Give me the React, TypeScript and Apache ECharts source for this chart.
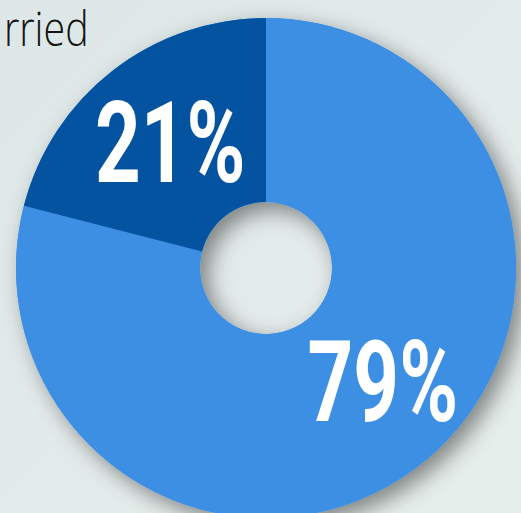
import React, { useEffect, useRef } from "react";
import * as echarts from "echarts";

const categories = ["Yes", "No"];
const values = [79, 21];
const colors = ["#3d8fe4", "#0453a0"];
const titleText = "rried";

export default function App() {
  const ref = useRef<HTMLDivElement>(null);
  useEffect(() => {
    document.body.style.margin = "0";
    if (!ref.current) return;
    const chart = echarts.init(ref.current, undefined, { renderer: "svg" });
    const cx = 266;
    const cy = 268;
    const r0 = 66;
    const r1 = 250;
    const total = values.reduce((a, b) => a + b, 0);
    const labelOffsets = [
      [20, -11],
      [1, 0],
    ];
    const labelData = values.map((v, i) => {
      const before = values.slice(0, i).reduce((a, b) => a + b, 0);
      return [before, v, i];
    });
    chart.setOption({
      animation: false,
      backgroundColor: "transparent",
      graphic: [
        {
          type: "text",
          left: 4,
          top: 3,
          scaleX: 0.82,
          style: {
            text: titleText,
            font: "300 48px 'Open Sans'",
            fill: "#151515",
          },
        },
      ],
      series: [
        {
          type: "pie",
          silent: true,
          center: [cx, cy],
          radius: [r0, r1],
          label: { show: false },
          labelLine: { show: false },
          itemStyle: {
            color: "#3d8fe4",
            shadowBlur: 22,
            shadowColor: "rgba(0,0,0,0.45)",
            shadowOffsetX: 8,
            shadowOffsetY: 8,
          },
          data: [{ value: 1, name: "" }],
          z: 1,
        },
        {
          type: "pie",
          center: [cx, cy],
          radius: [r0, r1],
          startAngle: 90,
          clockwise: true,
          label: { show: false },
          labelLine: { show: false },
          data: categories.map((c, i) => ({
            name: c,
            value: values[i],
            itemStyle: { color: colors[i] },
          })),
          z: 2,
        },
        {
          type: "custom",
          coordinateSystem: "none",
          z: 3,
          data: labelData,
          renderItem: (params: any, api: any) => {
            const before = api.value(0);
            const v = api.value(1);
            const i = api.value(2);
            const mid = ((before + v / 2) / total) * Math.PI * 2;
            const rm = (r0 + r1) / 2;
            const x = cx + rm * Math.sin(mid) + labelOffsets[i][0];
            const y = cy - rm * Math.cos(mid) + labelOffsets[i][1];
            return {
              type: "text",
              x,
              y,
              scaleX: 0.7,
              style: {
                x: 0,
                y: 0,
                text: Math.round((v / total) * 100) + "%",
                fill: "#ffffff",
                font: "bold 114px Roboto",
                align: "center",
                verticalAlign: "middle",
              },
            };
          },
        },
      ],
    });
    return () => chart.dispose();
  }, []);
  return (
    <div
      ref={ref}
      style={{
        width: 521,
        height: 513,
        background: "linear-gradient(135deg, #dde7e7 0%, #e3ebea 50%, #e7efed 100%)",
      }}
    />
  );
}
